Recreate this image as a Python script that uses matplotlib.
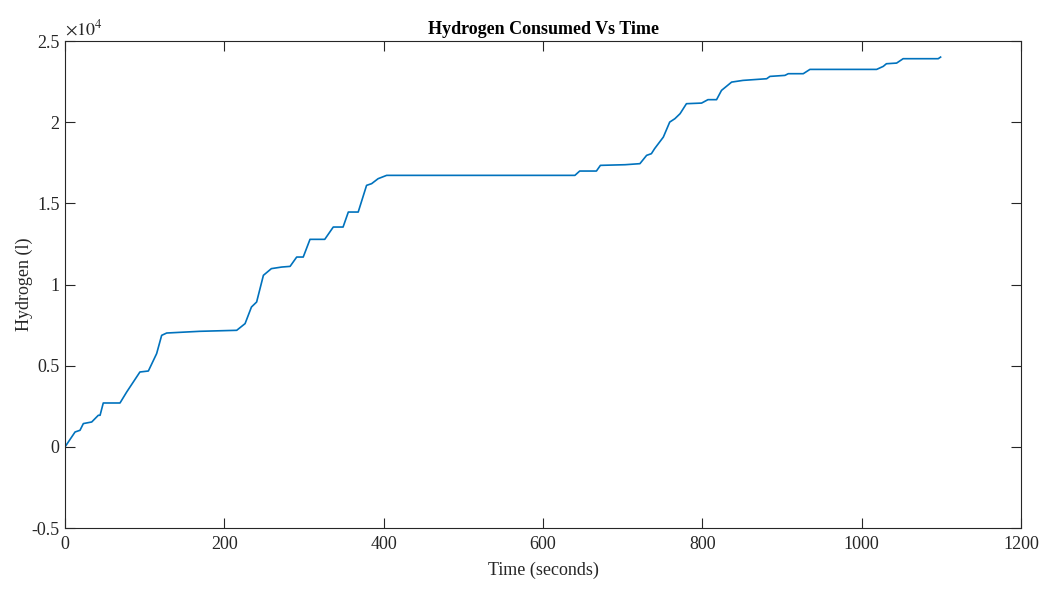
import numpy as np
import matplotlib.pyplot as plt
from matplotlib.ticker import FuncFormatter, MultipleLocator

plt.rcParams['font.family'] = ['Liberation Serif', 'DejaVu Serif']
plt.rcParams['mathtext.fontset'] = 'stix'

# time (s) / hydrogen consumed (l), traced breakpoints of the cumulative curve
t = [0, 12.6, 18.8, 23, 33.5, 41.8, 44, 48, 69, 77.4, 94, 104.6, 115, 121.3,
     127.6, 169, 215.5, 226, 234, 240.5, 249, 259, 272, 282.5, 290.8, 299,
     307.5, 326, 336.7, 349, 355.6, 368, 378.5, 384.8, 393, 403.7, 640, 646,
     667, 672, 703, 721.6, 730, 736, 740, 751, 759, 765.5, 772, 780, 799, 807,
     817.8, 824, 836.7, 851, 880.7, 884.8, 903.6, 907.8, 926.6, 935, 1018.7,
     1027, 1031, 1043.8, 1052, 1096, 1099]
h2 = [0, 917, 1022, 1435, 1533, 1946, 1946, 2703, 2703, 3380, 4612, 4673, 5745,
      6870, 7013, 7118, 7180, 7592, 8615, 8923, 10567, 10979, 11077, 11118,
      11693, 11693, 12783, 12783, 13541, 13541, 14465, 14465, 16108, 16212,
      16520, 16724, 16724, 16990, 16990, 17340, 17380, 17445, 17956, 18060,
      18367, 19082, 20006, 20215, 20523, 21139, 21176, 21387, 21387, 21958,
      22469, 22574, 22676, 22820, 22882, 22986, 22986, 23251, 23251, 23436,
      23600, 23640, 23910, 23910, 24010]

fig = plt.figure(figsize=(10.42, 5.9), dpi=100)
ax = fig.add_axes([0.0624, 0.105, 0.9175, 0.8255])

ax.plot(t, h2, color='#0072BD', lw=1.2)

ax.set_xlim(0, 1200)
ax.set_ylim(-5000, 25000)
ax.xaxis.set_major_locator(MultipleLocator(200))
ax.yaxis.set_major_locator(MultipleLocator(5000))
ax.yaxis.set_major_formatter(FuncFormatter(lambda v, p: '%g' % (v / 1e4)))
ax.text(0.0, 1.004, r'$\times10^{4}$', transform=ax.transAxes,
        fontsize=13, color='#262626', va='bottom', ha='left')

ax.tick_params(direction='in', top=True, right=True, length=7, width=0.8,
               colors='#262626', labelsize=13)
ax.tick_params(axis='x', pad=6)
ax.tick_params(axis='y', pad=4)
for s in ax.spines.values():
    s.set_color('#262626')
    s.set_linewidth(0.8)

ax.set_title('Hydrogen Consumed Vs Time', fontsize=13, fontweight='bold', pad=5)
ax.set_xlabel('Time (seconds)', fontsize=13, color='#262626', labelpad=6)
ax.set_ylabel('Hydrogen (l)', fontsize=13, color='#262626', labelpad=-1)

fig.savefig('out.png', dpi=100)
